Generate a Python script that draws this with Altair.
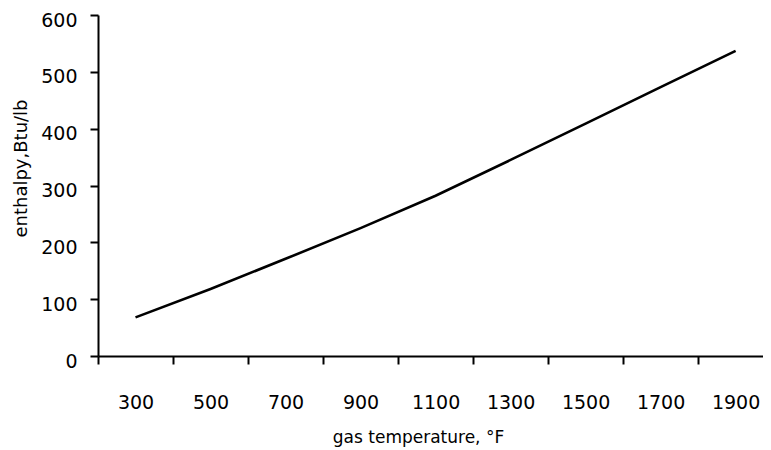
import altair as alt
import pandas as pd

temps = [300, 500, 700, 900, 1100, 1300, 1500, 1700, 1900]
enthalpy = [68, 118, 171, 225, 282, 345, 409, 473, 537]
x_tick_values = list(range(200, 2001, 100))
y_tick_values = [0, 100, 200, 300, 400, 500, 600]

df = pd.DataFrame({"temp": temps, "h": enthalpy})

FONT = "DejaVu Sans"

chart = alt.Chart(df).mark_line(color="black", strokeWidth=2.6).encode(
    x=alt.X(
        "temp:Q",
        scale=alt.Scale(domain=[200, 1973], nice=False, zero=False),
        axis=alt.Axis(
            values=x_tick_values,
            format="d",
            title="gas temperature, °F",
            grid=False,
            domainColor="black",
            domainWidth=2,
            tickColor="black",
            tickWidth=2,
            tickSize=8,
            tickOpacity={"condition": {"test": "datum.value % 200 == 0", "value": 1}, "value": 0},
            labelExpr="datum.value % 200 == 100 ? datum.label : ''",
            labelOverlap=False,
            labelBound=False,
            labelFlush=False,
            labelPadding=29,
            labelFont=FONT,
            labelFontSize=19,
            labelColor="black",
            titleFont=FONT,
            titleFontSize=17,
            titleFontWeight="normal",
            titleColor="black",
            titleBaseline="top",
            titleY=73,
            titleX=320,
        ),
    ),
    y=alt.Y(
        "h:Q",
        scale=alt.Scale(domain=[0, 600], nice=False),
        axis=alt.Axis(
            values=y_tick_values,
            title="enthalpy,Btu/lb",
            grid=False,
            domainColor="black",
            domainWidth=2,
            tickColor="black",
            tickWidth=2,
            tickSize=8,
            labelPadding=13,
            labelOffset=5,
            labelFont=FONT,
            labelFontSize=19,
            labelColor="black",
            titleFont=FONT,
            titleFontSize=18,
            titleFontWeight="normal",
            titleColor="black",
            titleAngle=270,
            titleAlign="center",
            titleBaseline="middle",
            titleX=-77,
            titleY=153,
        ),
    ),
).properties(
    width=665,
    height=341,
    background="white",
    autosize=alt.AutoSizeParams(type="none"),
    padding={"left": 90, "top": 7, "right": 0, "bottom": 96},
).configure_view(stroke=None)

chart.save("out.html", embed_options={"renderer": "svg", "actions": False})
